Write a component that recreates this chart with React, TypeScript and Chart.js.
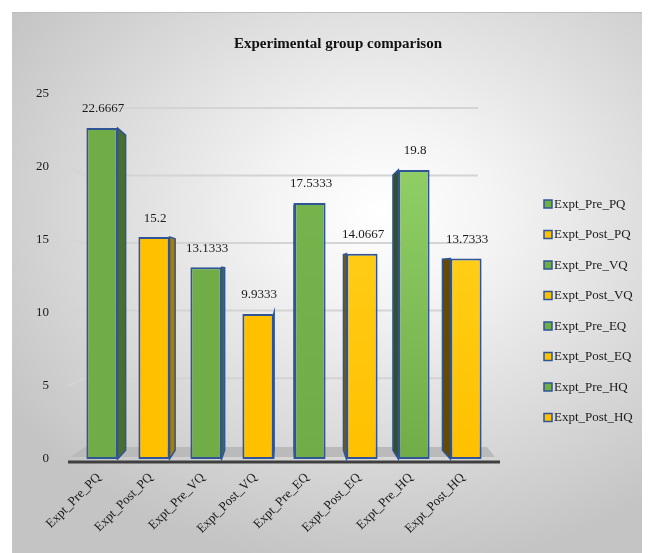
import React, { useEffect, useRef } from 'react';
import { Chart, registerables } from 'chart.js';
Chart.register(...registerables);

const categories = ['Expt_Pre_PQ', 'Expt_Post_PQ', 'Expt_Pre_VQ', 'Expt_Post_VQ', 'Expt_Pre_EQ', 'Expt_Post_EQ', 'Expt_Pre_HQ', 'Expt_Post_HQ'];
const values = [22.6667, 15.2, 13.1333, 9.9333, 17.5333, 14.0667, 19.8, 13.7333];
const valueLabels = ['22.6667', '15.2', '13.1333', '9.9333', '17.5333', '14.0667', '19.8', '13.7333'];
const yMin = 0;
const yMax = 25;
const yStep = 5;
const titleText = 'Experimental group comparison';

const FONT = '"Liberation Serif", "Times New Roman", serif';
const BORDER = '#2F5597';
const legendColors = ['#70AD47', '#FFC000', '#70AD47', '#FFC000', '#70AD47', '#FFC000', '#70AD47', '#FFC000'];
const topColors = ['#70AD47', '#FFC000', '#70AD47', '#FFC000', '#78B64E', '#FFD526', '#98D66D', '#FFD928'];
const baseColors = ['#70AD47', '#FFC000', '#70AD47', '#FFC000', '#70AD47', '#FFC000', '#70AD47', '#FFC000'];
const sideColors = ['#4A6E2E', '#A87D00', '#4A6E2E', '#A87D00', '#3D5C27', '#7A5A00', '#34502A', '#654A00'];

const V_BAR = { x: 273, y: 262 };
const K_BAR = 0.048;
const V_WALL_Y = 268;
const K_WALL = 0.0745;

const decor = {
  id: 'decor',
  beforeDatasetsDraw(chart: any) {
    const { ctx, chartArea: ca, scales } = chart;
    const ys = scales.y;
    ctx.save();
    const frontLeft = ca.left - 8;
    const backLeft = ca.left + 9;
    const wallRight = ca.right - 14;
    ctx.strokeStyle = '#d4d4d4';
    ctx.lineWidth = 2;
    for (let v = yMin + yStep; v <= yMax; v += yStep) {
      const yf = ys.getPixelForValue(v);
      const yb = yf + K_WALL * (V_WALL_Y - yf);
      ctx.beginPath();
      ctx.moveTo(frontLeft, yf);
      ctx.lineTo(backLeft, yb);
      ctx.lineTo(wallRight, yb);
      ctx.stroke();
    }
    const fy = ca.bottom - 2;
    const by = ca.bottom - 12;
    ctx.fillStyle = '#bababa';
    ctx.beginPath();
    ctx.moveTo(ca.left - 6, fy);
    ctx.lineTo(ca.right + 3, fy);
    ctx.lineTo(ca.right - 5, by);
    ctx.lineTo(ca.left + 9, by);
    ctx.closePath();
    ctx.fill();
    ctx.strokeStyle = '#3f3f3f';
    ctx.lineWidth = 3;
    ctx.beginPath();
    ctx.moveTo(ca.left - 8, ca.bottom + 3);
    ctx.lineTo(ca.right + 8, ca.bottom + 3);
    ctx.stroke();
    const meta = chart.getDatasetMeta(0);
    const proj = (px: number, py: number) => [px + K_BAR * (V_BAR.x - px), py + K_BAR * (V_BAR.y - py)];
    meta.data.forEach((el: any, i: number) => {
      const left = el.x - el.width / 2;
      const right = el.x + el.width / 2;
      const top = el.y;
      const base = el.base;
      const edge = el.x < V_BAR.x ? right : left;
      const [x1, y1] = proj(edge, top);
      const [x2, y2] = proj(edge, base);
      ctx.fillStyle = sideColors[i];
      ctx.strokeStyle = BORDER;
      ctx.lineWidth = 1.5;
      ctx.beginPath();
      ctx.moveTo(edge, top);
      ctx.lineTo(x1, y1);
      ctx.lineTo(x2, y2);
      ctx.lineTo(edge, base);
      ctx.closePath();
      ctx.fill();
      ctx.stroke();
    });
    ctx.restore();
  },
  afterDatasetsDraw(chart: any) {
    const { ctx } = chart;
    const meta = chart.getDatasetMeta(0);
    ctx.save();
    ctx.font = `13px ${FONT}`;
    ctx.fillStyle = '#1a1a1a';
    ctx.textAlign = 'center';
    ctx.textBaseline = 'middle';
    meta.data.forEach((el: any, i: number) => {
      ctx.fillText(valueLabels[i], el.x + 1, el.y - 19);
    });
    ctx.restore();
  },
  afterDraw(chart: any) {
    const { ctx } = chart;
    ctx.save();
    ctx.font = `bold 15px ${FONT}`;
    ctx.fillStyle = '#111';
    ctx.textAlign = 'center';
    ctx.textBaseline = 'middle';
    ctx.fillText(titleText, 326, 31);
    ctx.font = `13px ${FONT}`;
    ctx.textAlign = 'left';
    categories.forEach((c, i) => {
      const yy = 191 + 30.5 * i;
      ctx.fillStyle = legendColors[i];
      ctx.fillRect(532, yy - 4, 8, 8);
      ctx.strokeStyle = BORDER;
      ctx.lineWidth = 1.5;
      ctx.strokeRect(532, yy - 4, 8, 8);
      ctx.fillStyle = '#1a1a1a';
      ctx.fillText(c, 542, yy + 0.5);
    });
    ctx.restore();
  },
};

export default function App() {
  const ref = useRef<HTMLCanvasElement | null>(null);
  useEffect(() => {
    if (!ref.current) return;
    const chart = new Chart(ref.current, {
      type: 'bar',
      data: {
        labels: categories,
        datasets: [
          {
            label: 'Experimental group',
            data: values,
            backgroundColor: (c: any) => {
              const i = c.dataIndex;
              const ch = c.chart;
              if (!ch.chartArea) return baseColors[i];
              const g = ch.ctx.createLinearGradient(0, ch.chartArea.top, 0, ch.chartArea.bottom);
              g.addColorStop(0, topColors[i]);
              g.addColorStop(1, baseColors[i]);
              return g;
            },
            borderColor: BORDER,
            borderWidth: 2,
            borderSkipped: false,
            categoryPercentage: 1,
            barPercentage: 0.6,
          },
        ],
      },
      options: {
        responsive: false,
        maintainAspectRatio: false,
        animation: false,
        devicePixelRatio: 1,
        layout: { padding: { top: 81, right: 158, bottom: 0, left: 0 } },
        plugins: {
          legend: { display: false },
          title: { display: false },
          tooltip: { enabled: false },
        },
        scales: {
          x: {
            grid: { display: false, drawTicks: false },
            border: { display: false },
            ticks: {
              minRotation: 45,
              maxRotation: 45,
              padding: 11,
              labelOffset: -3,
              color: '#1a1a1a',
              font: { family: FONT, size: 13 },
            },
            afterFit: (s: any) => {
              s.height = 94;
            },
          },
          y: {
            min: yMin,
            max: yMax,
            grid: { display: false, drawTicks: false },
            border: { display: false },
            ticks: {
              stepSize: yStep,
              padding: 27,
              color: '#1a1a1a',
              font: { family: FONT, size: 13 },
            },
            afterFit: (s: any) => {
              s.width = 64;
            },
          },
        },
      },
      plugins: [decor],
    });
    return () => chart.destroy();
  }, []);

  return (
    <div style={{ padding: '4px 0 0 4px' }}>
      <div
        style={{
          width: 638,
          height: 541,
          overflow: 'hidden',
          borderTop: '1px solid #bdbdbd',
          boxSizing: 'border-box',
          background: 'radial-gradient(ellipse 70% 66% at 58% 37%, #ffffff 0%, #f4f4f4 25%, #dcdcdc 62%, #c4c4c4 100%)',
        }}
      >
        <canvas ref={ref} width={638} height={540} style={{ display: 'block' }} />
      </div>
    </div>
  );
}
